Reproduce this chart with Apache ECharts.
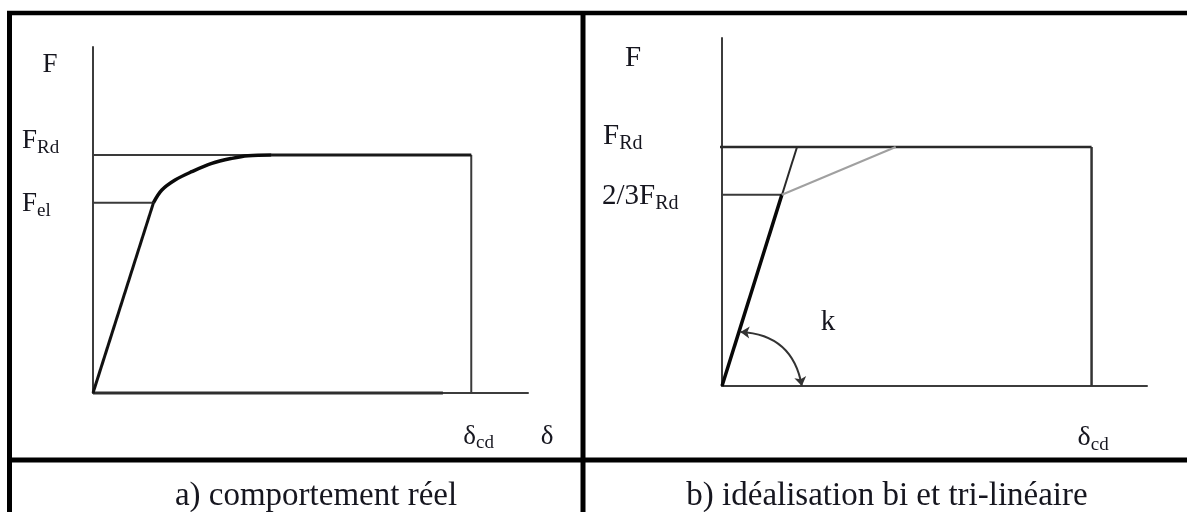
<!DOCTYPE html>
<html>
<head>
<meta charset="utf-8">
<script src="https://cdn.jsdelivr.net/npm/echarts@6/dist/echarts.min.js"></script>
<style>
  html, body { margin: 0; padding: 0; background: #fff; }
  #chart { width: 1187px; height: 512px; }
</style>
</head>
<body>
<div id="chart"></div>
<script>
// ---- Levels (force in % of F_Rd, displacement in arbitrary units) ----
const F_RD = 100;          // design resistance
const F_EL = 80;           // elastic limit (panel a)
const F_REDUCED = 80;      // "2/3 F_Rd" level (panel b)
const DELTA_CD = 10;       // design deformation capacity
const X_MAX = 11.5;

// ---- Panel a) real behaviour ----
const realElastic = [[0, 0], [1.6, 80]];
const realCurve = [[1.6, 80], [1.82, 85.3], [2.17, 89.5], [2.61, 93.0], [3.14, 96.5], [3.67, 98.6], [4.1, 99.7], [4.72, 100]];
const realPlateau = [[4.72, 100], [10, 100]];
const realAxisBold = [[0, 0], [9.25, 0]];

// ---- Panel b) bi- and tri-linear idealisation ----
const biElastic = [[0, 0], [2.03, 100]];
const triElastic = [[0, 0], [1.62, 80]];
const triHardening = [[1.62, 80], [4.7, 100]];
const stiffnessArc = [[0.5, 22.6], [2.16, 0]];
const stiffnessLabelAt = [2.87, 26.8];

const TEXT = '#16161f';
const SERIF = '"Liberation Serif", "DejaVu Serif", serif';

const chart = echarts.init(document.getElementById('chart'), null, { renderer: 'canvas' });

function axisX(i, max) {
  return {
    type: 'value', gridIndex: i, min: 0, max: max,
    axisLine: { show: true, onZero: false, lineStyle: { color: '#3c3c3c', width: 2 } },
    axisTick: { show: false }, axisLabel: { show: false }, splitLine: { show: false }
  };
}
function axisY(i, max) {
  return {
    type: 'value', gridIndex: i, min: 0, max: max,
    axisLine: { show: true, onZero: false, lineStyle: { color: '#3c3c3c', width: 2 } },
    axisTick: { show: false }, axisLabel: { show: false }, splitLine: { show: false }
  };
}
function seg(i, data, width, color, smooth) {
  return {
    type: 'line', xAxisIndex: i, yAxisIndex: i, data: data,
    symbol: 'none', clip: false, silent: true, smooth: smooth || false,
    lineStyle: { width: width, color: color, cap: 'butt', join: 'round' },
    z: 3
  };
}

chart.setOption({
  animation: false,
  backgroundColor: '#fff',
  grid: [
    { left: 93, top: 47, width: 435, height: 346 },
    { left: 722, top: 38, width: 425, height: 348 }
  ],
  xAxis: [axisX(0, X_MAX), axisX(1, X_MAX)],
  yAxis: [axisY(0, 145.4), axisY(1, 145.6)],
  series: [
    // panel a
    seg(0, [[0, F_RD], [DELTA_CD, F_RD]], 2, '#3a3a3a'),
    seg(0, [[0, F_EL], [realElastic[1][0], F_EL]], 2, '#3a3a3a'),
    seg(0, [[DELTA_CD, F_RD], [DELTA_CD, 0]], 2, '#3a3a3a'),
    seg(0, realAxisBold, 3, '#2e2e2e'),
    seg(0, realElastic, 3, '#111'),
    seg(0, realCurve, 3.5, '#0a0a0a', 0.35),
    seg(0, realPlateau, 3, '#1a1a1a'),
    // panel b
    seg(1, [[-0.1, F_RD], [DELTA_CD, F_RD]], 2.5, '#2a2a2a'),
    seg(1, [[-0.15, F_REDUCED], [triElastic[1][0], F_REDUCED]], 2, '#3a3a3a'),
    seg(1, [[DELTA_CD, F_RD], [DELTA_CD, 0]], 2.5, '#333'),
    seg(1, biElastic, 2, '#2a2a2a'),
    seg(1, triElastic, 3.5, '#080808'),
    seg(1, triHardening, 2, '#a0a0a0'),
    {
      type: 'lines', coordinateSystem: 'cartesian2d', xAxisIndex: 1, yAxisIndex: 1,
      silent: true, symbol: ['arrow', 'arrow'], symbolSize: [9, 9],
      lineStyle: { color: '#333', width: 2, curveness: 0.4, opacity: 1 },
      data: [{ coords: stiffnessArc }], z: 4
    }
  ]
});

// ---- Texts placed through the axes' scales ----
function px(i, pt) { return chart.convertToPixel({ gridIndex: i }, pt); }
function rich(main, sub, size, subSize) {
  return {
    text: sub ? '{m|' + main + '}{s|' + sub + '}' : '{m|' + main + '}',
    rich: {
      m: { fontFamily: SERIF, fontSize: size, fill: TEXT, verticalAlign: 'bottom',
           padding: [0, 0, sub ? 3 : 0, 0] },
      s: { fontFamily: SERIF, fontSize: subSize, fill: TEXT, verticalAlign: 'bottom' }
    }
  };
}
function label(x, y, main, sub, size, subSize, align, vAlign) {
  const st = rich(main, sub, size, subSize);
  st.fill = TEXT;
  st.align = align || 'left';
  st.verticalAlign = vAlign || 'middle';
  return { type: 'text', x: x, y: y, style: st, z: 10, silent: true };
}

const aTop = px(0, [0, 145.4]), aRd = px(0, [0, F_RD]), aEl = px(0, [0, F_EL]);
const aCd = px(0, [DELTA_CD, 0]), aEnd = px(0, [X_MAX, 0]);
const bTop = px(1, [0, 145.6]), bRd = px(1, [0, F_RD]), bRed = px(1, [0, F_REDUCED]);
const bCd = px(1, [DELTA_CD, 0]), bK = px(1, stiffnessLabelAt);

const graphics = [
  // panel a
  label(aTop[0] - 43, aTop[1] + 18, 'F', null, 27, 19, 'center'),
  label(aRd[0] - 71, aRd[1] - 13, 'F', 'Rd', 27, 19),
  label(aEl[0] - 71, aEl[1] + 3, 'F', 'el', 27, 19),
  label(aCd[0] - 8, aCd[1] + 45, 'δ', 'cd', 27, 19),
  label(aEnd[0] + 19, aEnd[1] + 44, 'δ', null, 27, 19, 'center'),
  // panel b
  label(bTop[0] - 89, bTop[1] + 20, 'F', null, 29, 20, 'center'),
  label(bRd[0] - 119, bRd[1] - 9, 'F', 'Rd', 29, 20),
  label(bRed[0] - 120, bRed[1] + 3, '2/3F', 'Rd', 29, 20),
  label(bCd[0] - 14, bCd[1] + 53, 'δ', 'cd', 28, 19),
  label(bK[0], bK[1], 'k', null, 29, 20, 'center'),
  // captions
  { type: 'text', x: 316, y: 496, silent: true, z: 10,
    style: { text: 'a) comportement réel', fontFamily: SERIF, fontSize: 33, fill: TEXT, align: 'center', verticalAlign: 'middle' } },
  { type: 'text', x: 887, y: 496, silent: true, z: 10,
    style: { text: 'b) idéalisation bi et tri-linéaire', fontFamily: SERIF, fontSize: 33, fill: TEXT, align: 'center', verticalAlign: 'middle' } },
  // table frame
  { type: 'line', silent: true, z: 20, shape: { x1: 7, y1: 13, x2: 1187, y2: 13 }, style: { stroke: '#000', lineWidth: 4.5 } },
  { type: 'line', silent: true, z: 20, shape: { x1: 9.5, y1: 11, x2: 9.5, y2: 512 }, style: { stroke: '#000', lineWidth: 5 } },
  { type: 'line', silent: true, z: 20, shape: { x1: 583, y1: 11, x2: 583, y2: 512 }, style: { stroke: '#000', lineWidth: 5 } },
  { type: 'line', silent: true, z: 20, shape: { x1: 7, y1: 460, x2: 1187, y2: 460 }, style: { stroke: '#000', lineWidth: 5 } }
];

chart.setOption({ graphic: graphics });
</script>
</body>
</html>
